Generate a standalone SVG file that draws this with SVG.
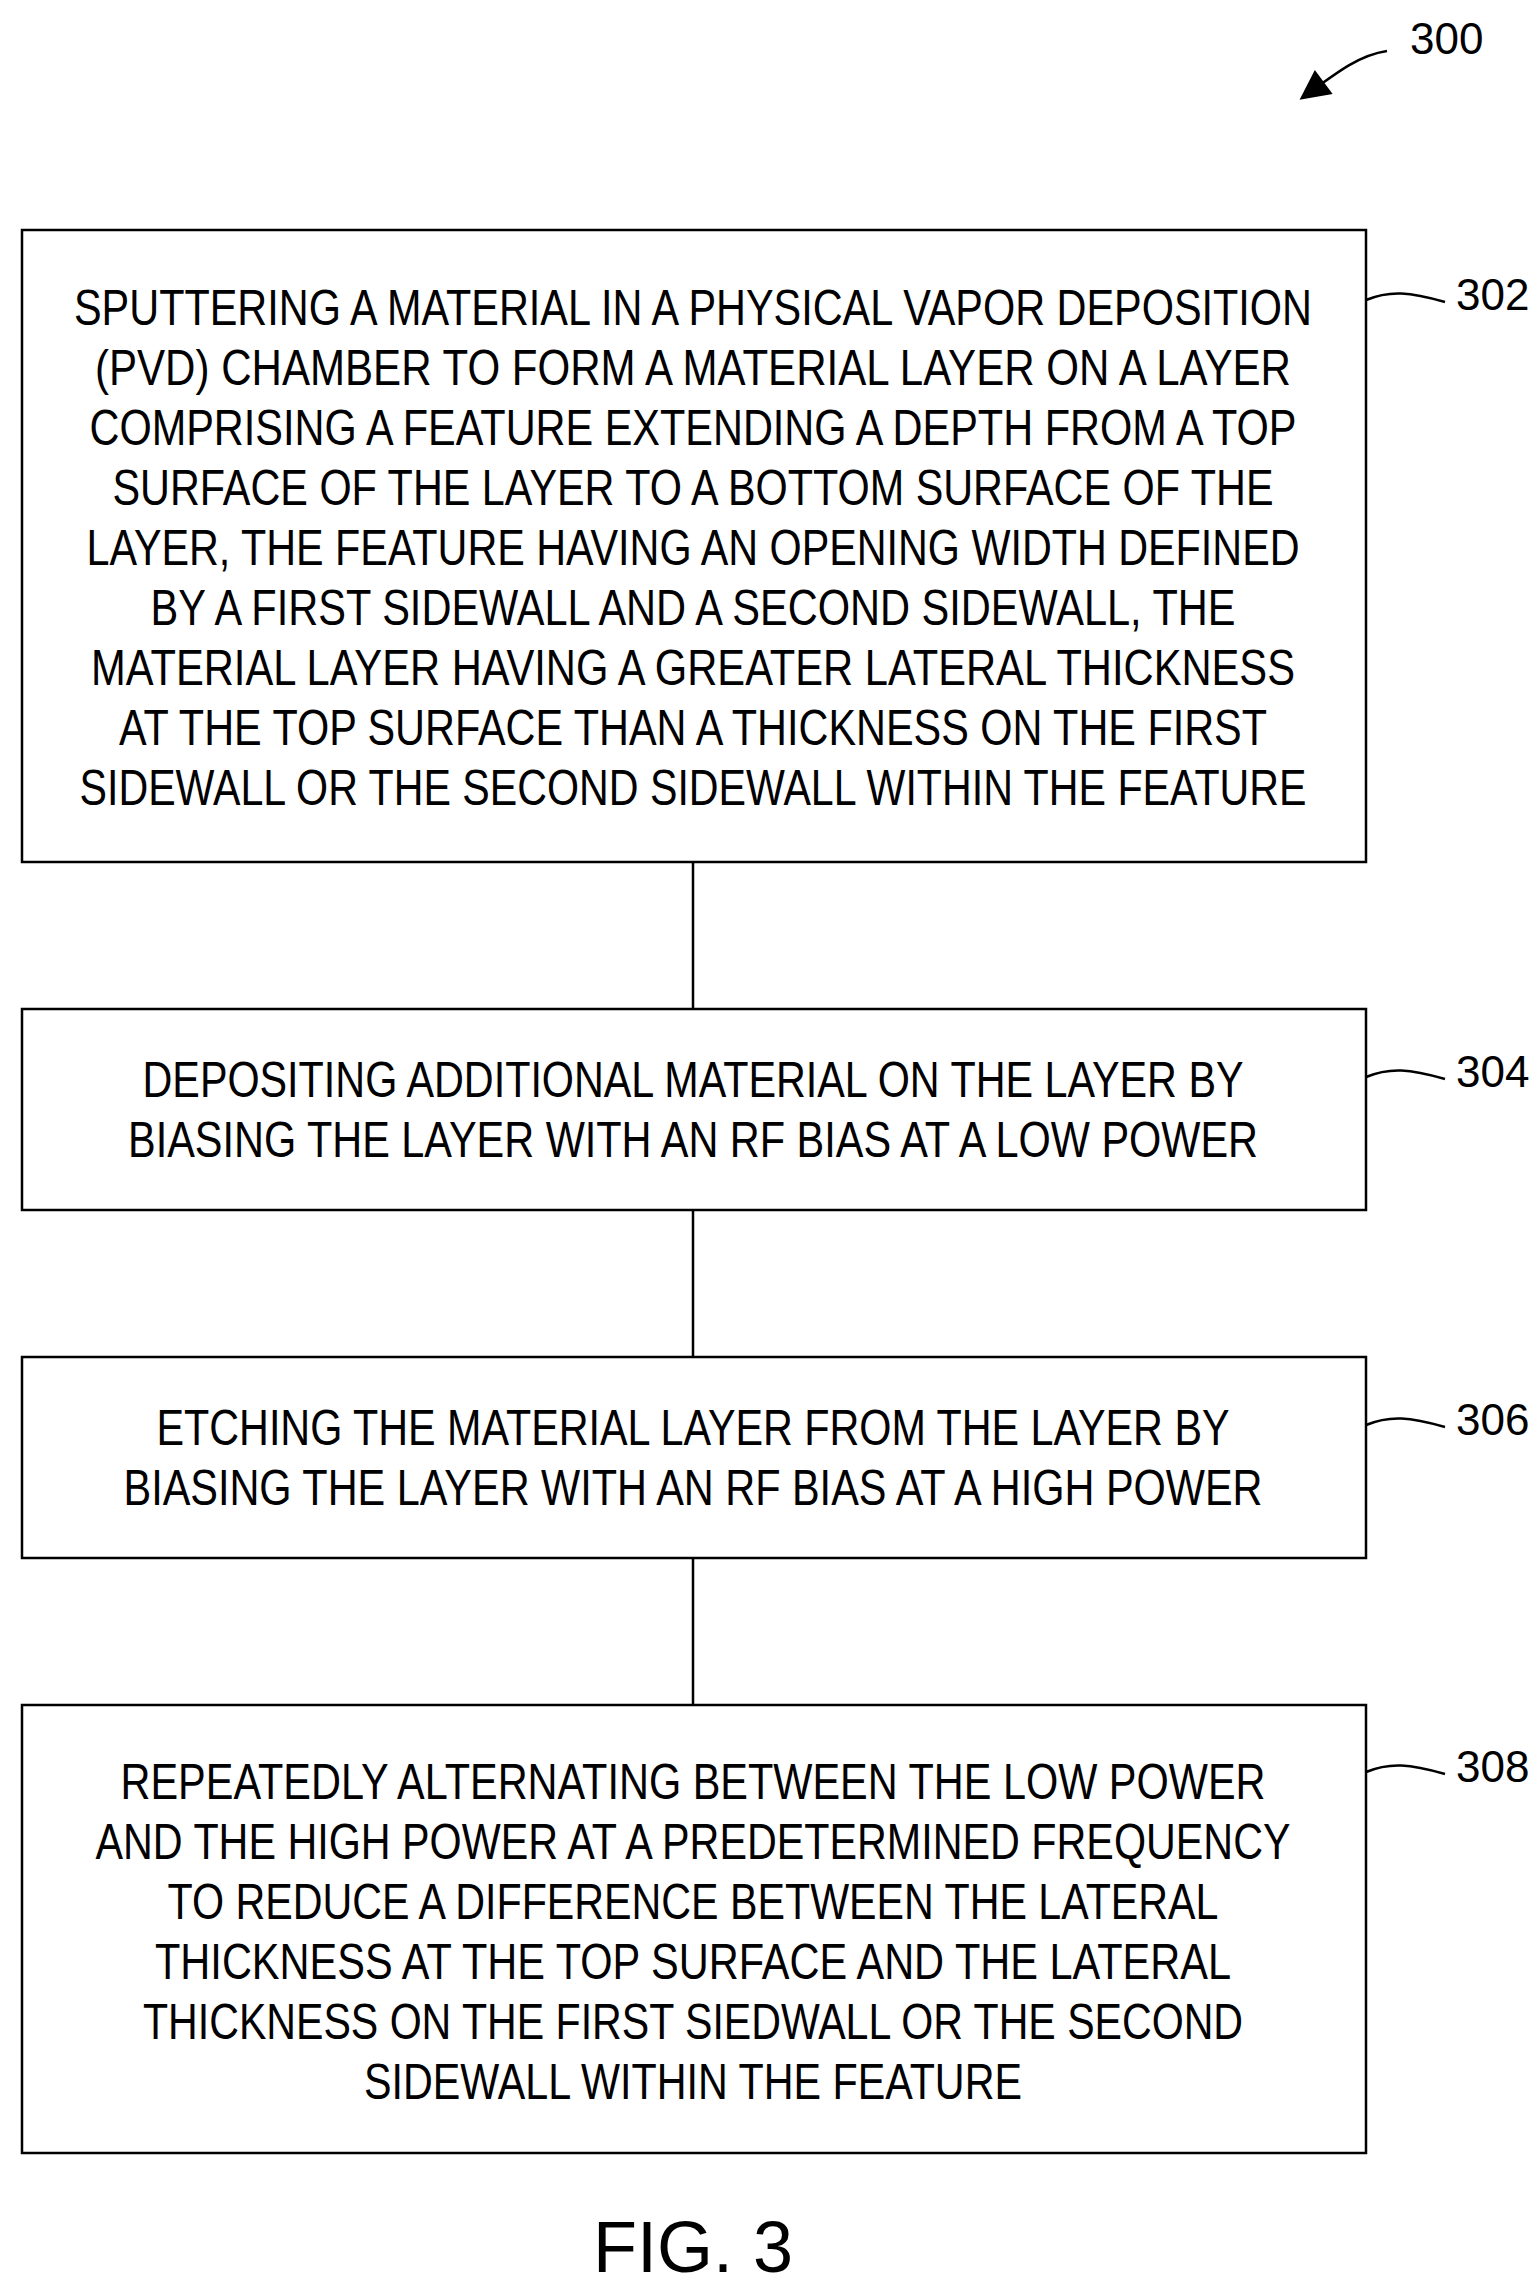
<svg xmlns="http://www.w3.org/2000/svg" width="1539" height="2296" viewBox="0 0 1539 2296">
<style>
.b{fill:#fff;stroke:#000;stroke-width:2.5}
.t{font-family:"Liberation Sans",Arial,sans-serif;font-size:50px;text-anchor:middle;fill:#000}
.l{font-family:"Liberation Sans",Arial,sans-serif;font-size:44px;fill:#000}
.c{fill:none;stroke:#000;stroke-width:2.5}
</style>
<defs><marker id="a" markerWidth="10" markerHeight="10" refX="9" refY="5" orient="auto" markerUnits="userSpaceOnUse" viewBox="0 0 10 10"><path d="M0,0L10,5L0,10z"/></marker>
<marker id="ah" viewBox="0 0 10 10" refX="9" refY="5" markerWidth="36" markerHeight="30" orient="auto" markerUnits="userSpaceOnUse"><path d="M0,0L10,5L0,10z"/></marker></defs>
<g id="connectors">
<line class="c" x1="693" y1="862" x2="693" y2="1009"/>
<line class="c" x1="693" y1="1210" x2="693" y2="1357"/>
<line class="c" x1="693" y1="1558" x2="693" y2="1705"/>
<path class="c" d="M1387,51 C1360,55 1340,70 1302,98" marker-end="url(#ah)"/>
<path class="c" d="M1366,300 C1390,290 1410,292 1445,302"/>
<path class="c" d="M1366,1077 C1390,1067 1410,1069 1445,1079"/>
<path class="c" d="M1366,1425 C1390,1415 1410,1417 1445,1427"/>
<path class="c" d="M1366,1772 C1390,1762 1410,1764 1445,1774"/>
</g>
<g id="label300"><text class="l" x="1410" y="54">300</text></g>
<g id="n302"><rect class="b" x="22" y="230" width="1344" height="632"/>
<text class="t" x="693" y="325" textLength="1238" lengthAdjust="spacingAndGlyphs">SPUTTERING A MATERIAL IN A PHYSICAL VAPOR DEPOSITION</text>
<text class="t" x="693" y="385" textLength="1196" lengthAdjust="spacingAndGlyphs">(PVD) CHAMBER TO FORM A MATERIAL LAYER ON A LAYER</text>
<text class="t" x="693" y="445" textLength="1207" lengthAdjust="spacingAndGlyphs">COMPRISING A FEATURE EXTENDING A DEPTH FROM A TOP</text>
<text class="t" x="693" y="505" textLength="1161" lengthAdjust="spacingAndGlyphs">SURFACE OF THE LAYER TO A BOTTOM SURFACE OF THE</text>
<text class="t" x="693" y="565" textLength="1213" lengthAdjust="spacingAndGlyphs">LAYER, THE FEATURE HAVING AN OPENING WIDTH DEFINED</text>
<text class="t" x="693" y="625" textLength="1085" lengthAdjust="spacingAndGlyphs">BY A FIRST SIDEWALL AND A SECOND SIDEWALL, THE</text>
<text class="t" x="693" y="685" textLength="1204" lengthAdjust="spacingAndGlyphs">MATERIAL LAYER HAVING A GREATER LATERAL THICKNESS</text>
<text class="t" x="693" y="745" textLength="1148" lengthAdjust="spacingAndGlyphs">AT THE TOP SURFACE THAN A THICKNESS ON THE FIRST</text>
<text class="t" x="693" y="805" textLength="1227" lengthAdjust="spacingAndGlyphs">SIDEWALL OR THE SECOND SIDEWALL WITHIN THE FEATURE</text>
<text class="l" x="1456" y="310">302</text></g>
<g id="n304"><rect class="b" x="22" y="1009" width="1344" height="201"/>
<text class="t" x="693" y="1097" textLength="1101" lengthAdjust="spacingAndGlyphs">DEPOSITING ADDITIONAL MATERIAL ON THE LAYER BY</text>
<text class="t" x="693" y="1157" textLength="1130" lengthAdjust="spacingAndGlyphs">BIASING THE LAYER WITH AN RF BIAS AT A LOW POWER</text>
<text class="l" x="1456" y="1087">304</text></g>
<g id="n306"><rect class="b" x="22" y="1357" width="1344" height="201"/>
<text class="t" x="693" y="1445" textLength="1073" lengthAdjust="spacingAndGlyphs">ETCHING THE MATERIAL LAYER FROM THE LAYER BY</text>
<text class="t" x="693" y="1505" textLength="1139" lengthAdjust="spacingAndGlyphs">BIASING THE LAYER WITH AN RF BIAS AT A HIGH POWER</text>
<text class="l" x="1456" y="1435">306</text></g>
<g id="n308"><rect class="b" x="22" y="1705" width="1344" height="448"/>
<text class="t" x="693" y="1799" textLength="1145" lengthAdjust="spacingAndGlyphs">REPEATEDLY ALTERNATING BETWEEN THE LOW POWER</text>
<text class="t" x="693" y="1859" textLength="1195" lengthAdjust="spacingAndGlyphs">AND THE HIGH POWER AT A PREDETERMINED FREQUENCY</text>
<text class="t" x="693" y="1919" textLength="1051" lengthAdjust="spacingAndGlyphs">TO REDUCE A DIFFERENCE BETWEEN THE LATERAL</text>
<text class="t" x="693" y="1979" textLength="1076" lengthAdjust="spacingAndGlyphs">THICKNESS AT THE TOP SURFACE AND THE LATERAL</text>
<text class="t" x="693" y="2039" textLength="1100" lengthAdjust="spacingAndGlyphs">THICKNESS ON THE FIRST SIEDWALL OR THE SECOND</text>
<text class="t" x="693" y="2099" textLength="658" lengthAdjust="spacingAndGlyphs">SIDEWALL WITHIN THE FEATURE</text>
<text class="l" x="1456" y="1782">308</text></g>
<g id="fig"><text class="t" x="693" y="2272" style="font-size:72px">FIG. 3</text></g>
</svg>
